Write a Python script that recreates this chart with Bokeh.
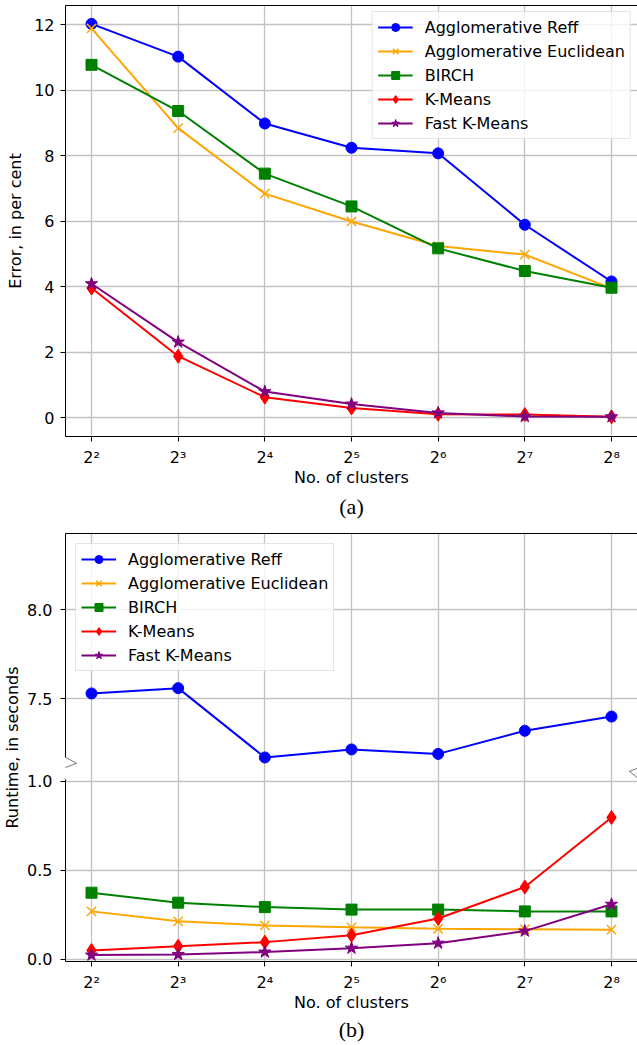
import numpy as np
from bokeh.plotting import figure
from bokeh.layouts import column
from bokeh.models import (Range1d, FixedTicker, Legend, LegendItem, Title,
                          PolyAnnotation, ColumnDataSource, LinearAxis)
from bokeh.embed import file_html
from bokeh.resources import INLINE

# ---------------- data ----------------
clusters = [4, 8, 16, 32, 64, 128, 256]
cluster_labels = ["2²", "2³", "2⁴", "2⁵", "2⁶", "2⁷", "2⁸"]
series_names = ["Agglomerative Reff", "Agglomerative Euclidean", "BIRCH",
                "K-Means", "Fast K-Means"]

# (a) error, in per cent
error_reff = [12.02, 11.02, 8.98, 8.24, 8.07, 5.89, 4.16]
error_euclid = [11.88, 8.84, 6.84, 5.99, 5.24, 4.98, 3.95]
error_birch = [10.77, 9.36, 7.45, 6.45, 5.17, 4.48, 3.97]
error_kmeans = [3.96, 1.88, 0.63, 0.30, 0.11, 0.10, 0.03]
error_fast_kmeans = [4.09, 2.31, 0.80, 0.42, 0.15, 0.04, 0.03]

# (b) runtime, in seconds
runtime_reff = [7.53, 7.56, 7.17, 7.215, 7.19, 7.32, 7.40]
runtime_euclid = [0.269, 0.213, 0.190, 0.179, 0.171, 0.168, 0.166]
runtime_birch = [0.374, 0.318, 0.293, 0.279, 0.279, 0.269, 0.269]
runtime_kmeans = [0.049, 0.073, 0.096, 0.135, 0.229, 0.406, 0.797]
runtime_fast_kmeans = [0.023, 0.026, 0.040, 0.062, 0.090, 0.158, 0.309]

error_ticks = [0, 2, 4, 6, 8, 10, 12]
runtime_low_ticks = [0.0, 0.5, 1.0]
runtime_high_ticks = [7.5, 8.0]

# ---------------- style ----------------
colors = ["blue", "orange", "green", "red", "purple"]
markers = ["circle", "x", "square", "diamond", "star"]
msizes = [11, 13, 11, 14, 13]
FONT = "DejaVu Sans"
FS = "16px"
GRID = "#c2c2c2"
W = 637
LEFT = 62
FRAME_W = W - LEFT
X0E, X1E = 1.7, 8.3
PX_PER_LOG2 = FRAME_W / (X1E - X0E)


def xoff(exp, dpx):
    return 2 ** (exp + dpx / PX_PER_LOG2)


def style(p):
    p.outline_line_color = None
    p.xaxis.ticker = FixedTicker(ticks=clusters, minor_ticks=[])
    p.xgrid.ticker = FixedTicker(ticks=clusters, minor_ticks=[])
    p.xaxis.major_label_overrides = dict(zip(clusters, cluster_labels))
    for ax in p.axis:
        ax.major_label_text_font = FONT
        ax.major_label_text_font_size = FS
        ax.major_label_text_color = "black"
        ax.axis_label_text_font = FONT
        ax.axis_label_text_font_size = FS
        ax.axis_label_text_font_style = "normal"
        ax.axis_label_text_color = "black"
        ax.major_tick_in = 0
        ax.major_tick_out = 5
        ax.minor_tick_in = 0
        ax.minor_tick_out = 0
        ax.major_tick_line_color = "black"
        ax.axis_line_color = "black"
    p.grid.grid_line_color = GRID
    p.grid.grid_line_width = 1.3
    p.xaxis.major_label_standoff = 6
    p.xaxis.axis_label = "No. of clusters"
    p.xaxis.axis_label_standoff = -2
    top = LinearAxis(ticker=FixedTicker(ticks=[]), major_tick_in=0,
                     major_tick_out=0, minor_tick_in=0, minor_tick_out=0,
                     major_label_standoff=0, axis_line_color="black")
    p.add_layout(top, "above")


def add_series(p, ys_list, loc, margin):
    items = []
    for name, ys, c, m, s in zip(series_names, ys_list, colors, markers, msizes):
        src = ColumnDataSource(dict(x=clusters, y=list(ys)))
        ln = p.line("x", "y", source=src, line_color=c, line_width=2)
        sc = p.scatter("x", "y", source=src, marker=m, size=s, fill_color=c,
                       line_color=c, line_width=1.5 if m == "x" else 1)
        items.append(LegendItem(label=name, renderers=[ln, sc]))
    leg = Legend(items=items, location=loc, margin=margin, padding=5, spacing=4,
                 label_text_font=FONT, label_text_font_size=FS,
                 label_text_color="black", glyph_width=35, glyph_height=20,
                 label_height=20, label_standoff=12,
                 border_line_color="#cccccc", border_line_width=1,
                 background_fill_color="white", background_fill_alpha=0.8)
    p.add_layout(leg)


def polyline(p, xs, ys):
    fx = list(xs) + list(xs)[-2:0:-1]
    fy = list(ys) + list(ys)[-2:0:-1]
    p.add_layout(PolyAnnotation(xs=fx, ys=fy, xs_units="data", ys_units="data",
                                fill_color=None, fill_alpha=0,
                                line_color="black", line_width=1))


# ---------------- (a) ----------------
YA0, YA1 = -0.57, 12.58
pa = figure(width=W, height=528, x_axis_type="log",
            x_range=Range1d(2 ** X0E, 2 ** X1E), y_range=Range1d(YA0, YA1),
            output_backend="svg", toolbar_location=None,
            min_border_left=LEFT, min_border_right=0, min_border_top=5,
            min_border_bottom=92)
style(pa)
pa.yaxis.ticker = FixedTicker(ticks=error_ticks, minor_ticks=[])
pa.ygrid.ticker = FixedTicker(ticks=error_ticks, minor_ticks=[])
pa.yaxis.axis_label = "Error, in per cent"
pa.yaxis.major_label_standoff = 6
pa.yaxis.axis_label_standoff = 6
add_series(pa, [error_reff, error_euclid, error_birch, error_kmeans,
                error_fast_kmeans], "top_right", 6)
pa.add_layout(Title(text="(a)", align="center", text_font="Liberation Serif",
                    text_font_size="22px", text_font_style="normal",
                    text_color="black", standoff=4), "below")

# ---------------- (b) broken axis ----------------
LOW_TOP = 1.085      # top of the lower segment
HIGH_BOTTOM = 7.12   # bottom of the upper segment
SHIFT = HIGH_BOTTOM - LOW_TOP
YB0, YB1 = -0.013, 8.43 - SHIFT
FRAME_HB = 428
pb = figure(width=W, height=517, x_axis_type="log",
            x_range=Range1d(2 ** X0E, 2 ** X1E), y_range=Range1d(YB0, YB1),
            output_backend="svg", toolbar_location=None,
            min_border_left=LEFT, min_border_right=0, min_border_top=5,
            min_border_bottom=84)
style(pb)
ytick_pos = list(runtime_low_ticks) + [t - SHIFT for t in runtime_high_ticks]
ytick_lab = ["%.1f" % t for t in runtime_low_ticks] + ["%.1f" % t for t in runtime_high_ticks]
pb.yaxis.ticker = FixedTicker(ticks=ytick_pos, minor_ticks=[])
pb.ygrid.ticker = FixedTicker(ticks=ytick_pos, minor_ticks=[])
pb.yaxis.major_label_overrides = dict(zip(ytick_pos, ytick_lab))
pb.yaxis.axis_label = "Runtime, in seconds"
pb.yaxis.major_label_standoff = 8
pb.yaxis.axis_label_standoff = 2

# gap in the left spine around the break
px_per_unit = FRAME_HB / (YB1 - YB0)
brk_px = (LOW_TOP - YB0) * px_per_unit
gap_lo = int(round(brk_px - 13))
pb.yaxis.axis_line_dash = "%d 22 2000" % gap_lo

reff_shown = list(np.array(runtime_reff) - SHIFT)
add_series(pb, [reff_shown, runtime_euclid, runtime_birch, runtime_kmeans,
                runtime_fast_kmeans], "top_left", 10)

# break marks
dy = 1.0 / px_per_unit
zz = [(0, 9), (11, 3), (-10, -5), (0, -13)]
polyline(pb, [xoff(X0E, a) for a, b in zz], [LOW_TOP + b * dy for a, b in zz])
polyline(pb, [xoff(X1E, 2 + a) for a, b in zz], [LOW_TOP + b * dy for a, b in zz])
pb.add_layout(Title(text="(b)", align="center", text_font="Liberation Serif",
                    text_font_size="22px", text_font_style="normal",
                    text_color="black", standoff=0), "below")

layout = column(pa, pb)
open("out.html", "w").write(file_html(layout, INLINE))
